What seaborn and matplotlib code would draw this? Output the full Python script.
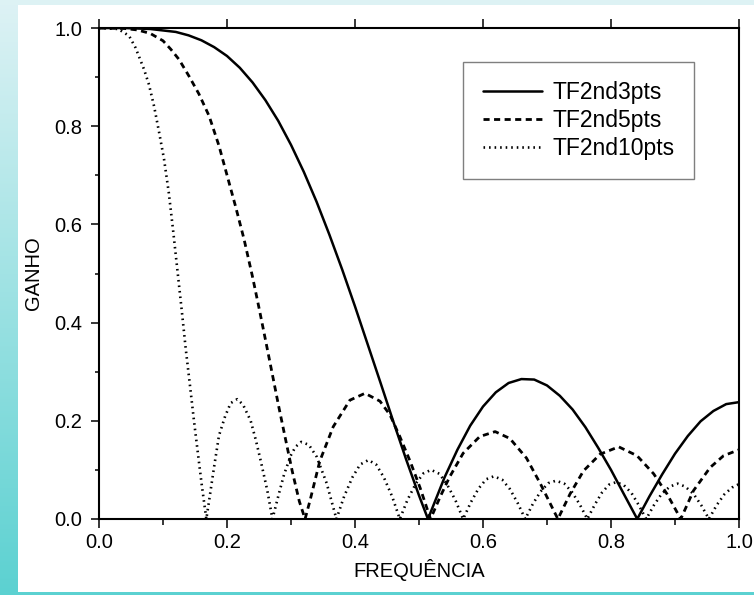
import numpy as np
import pandas as pd
import matplotlib
matplotlib.use("Agg")
import matplotlib.pyplot as plt
from matplotlib.patches import Rectangle
import seaborn as sns

# ---------------- data ----------------
x_3pts = [0.0, 0.04, 0.08, 0.12, 0.14, 0.16, 0.18, 0.20, 0.22, 0.24, 0.26, 0.28, 0.30,
          0.32, 0.34, 0.36, 0.38, 0.40, 0.42, 0.44, 0.46, 0.48, 0.50, 0.514,
          0.54, 0.56, 0.58, 0.60, 0.62, 0.64, 0.66, 0.68, 0.70, 0.72, 0.74,
          0.76, 0.78, 0.80, 0.82, 0.841, 0.86, 0.88, 0.90, 0.92, 0.94, 0.96,
          0.98, 1.0]
y_3pts = [1.0, 1.0, 0.998, 0.992, 0.985, 0.975, 0.961, 0.943, 0.919, 0.889, 0.853, 0.811, 0.762,
          0.707, 0.646, 0.579, 0.508, 0.433, 0.355, 0.277, 0.198, 0.121, 0.048, 0.0,
          0.085, 0.141, 0.190, 0.229, 0.258, 0.277, 0.285, 0.284, 0.272, 0.251, 0.223,
          0.187, 0.145, 0.100, 0.051, 0.0, 0.046, 0.091, 0.133, 0.169, 0.199, 0.220,
          0.234, 0.238]

x_5pts = [0.0, 0.04, 0.06, 0.08, 0.10, 0.112, 0.125, 0.1406, 0.156, 0.172, 0.1875,
          0.2005, 0.2135, 0.2266, 0.2396, 0.25, 0.2604, 0.2708, 0.281, 0.2917,
          0.302, 0.313, 0.322, 0.33, 0.345, 0.366, 0.392, 0.4156, 0.439, 0.4547,
          0.470, 0.486, 0.5016, 0.518, 0.533, 0.548, 0.569, 0.595, 0.619, 0.642,
          0.668, 0.690, 0.717, 0.736, 0.757, 0.783, 0.812, 0.8406, 0.8667,
          0.8875, 0.909, 0.929, 0.955, 0.976, 1.0]
y_5pts = [1.0, 0.999, 0.996, 0.989, 0.974, 0.957, 0.936, 0.902, 0.866, 0.821, 0.760,
          0.698, 0.636, 0.570, 0.495, 0.430, 0.363, 0.295, 0.228, 0.161,
          0.097, 0.036, 0.0, 0.039, 0.118, 0.188, 0.242, 0.256, 0.240, 0.212,
          0.168, 0.118, 0.064, 0.0, 0.045, 0.086, 0.134, 0.168, 0.178, 0.164,
          0.124, 0.071, 0.0, 0.051, 0.098, 0.132, 0.147, 0.129, 0.092,
          0.051, 0.0, 0.058, 0.105, 0.129, 0.141]

x_10pts = [0.0, 0.03, 0.047, 0.057, 0.0703, 0.078, 0.086, 0.094, 0.1016, 0.109,
           0.1156, 0.1224, 0.130, 0.1354, 0.1417, 0.1484, 0.1547, 0.1604, 0.1677,
           0.172, 0.1797, 0.1875, 0.197, 0.2057, 0.216, 0.225, 0.237, 0.245,
           0.2526, 0.263, 0.271, 0.281, 0.289, 0.2995, 0.307, 0.316, 0.328,
           0.340, 0.3557, 0.363, 0.371, 0.383, 0.396, 0.408, 0.421, 0.433, 0.445,
           0.458, 0.470, 0.482, 0.495, 0.507, 0.519, 0.532, 0.544, 0.557, 0.569,
           0.581, 0.593, 0.605, 0.617, 0.630, 0.642, 0.654, 0.666, 0.678, 0.690,
           0.702, 0.714, 0.727, 0.739, 0.751, 0.763, 0.775, 0.786, 0.797, 0.808,
           0.820, 0.832, 0.843, 0.855, 0.867, 0.879, 0.892, 0.904, 0.916, 0.929,
           0.941, 0.953, 0.965, 0.977, 0.989, 1.0]
y_10pts = [1.0, 0.998, 0.984, 0.960, 0.916, 0.885, 0.841, 0.787, 0.733, 0.665,
           0.590, 0.508, 0.416, 0.348, 0.277, 0.200, 0.132, 0.071, 0.0,
           0.037, 0.105, 0.170, 0.209, 0.236, 0.244, 0.233, 0.200, 0.161,
           0.119, 0.058, 0.0, 0.051, 0.090, 0.129, 0.147, 0.157, 0.151,
           0.127, 0.073, 0.038, 0.0, 0.046, 0.085, 0.111, 0.120, 0.111, 0.085,
           0.046, 0.0, 0.039, 0.072, 0.093, 0.100, 0.092, 0.070, 0.038, 0.0,
           0.034, 0.062, 0.081, 0.087, 0.080, 0.061, 0.033, 0.0, 0.031, 0.056,
           0.073, 0.078, 0.072, 0.055, 0.030, 0.0, 0.030, 0.054, 0.070, 0.075,
           0.069, 0.053, 0.029, 0.0, 0.028, 0.051, 0.066, 0.072, 0.066, 0.051,
           0.028, 0.0, 0.028, 0.050, 0.064, 0.071]

series_labels = ["TF2nd3pts", "TF2nd5pts", "TF2nd10pts"]
tick_values = [0.0, 0.2, 0.4, 0.6, 0.8, 1.0]
tick_labels = ["0.0", "0.2", "0.4", "0.6", "0.8", "1.0"]
x_label = "FREQUÊNCIA"
y_label = "GANHO"

# ---------------- style ----------------
sns.set_theme(style="white")
plt.rcParams["font.family"] = ["Liberation Sans", "DejaVu Sans"]

W, H = 754, 595
fig = plt.figure(figsize=(W / 100, H / 100), dpi=100)

# background: teal gradient with a white panel
bg = fig.add_axes([0, 0, 1, 1], zorder=-10)
grad = np.linspace(0, 1, 256)[:, None]
top_c = np.array([0.87, 0.95, 0.96])
bot_c = np.array([0.36, 0.82, 0.82])
img = top_c[None, None, :] * (1 - grad[:, :, None]) + bot_c[None, None, :] * grad[:, :, None]
bg.imshow(img, aspect="auto", extent=[0, 1, 0, 1], origin="upper")
bg.add_patch(Rectangle((18 / W, 3 / H), 1 - 18 / W, (H - 5 - 3) / H,
                       facecolor="white", edgecolor="none"))
bg.set_xlim(0, 1)
bg.set_ylim(0, 1)
bg.axis("off")

ax = fig.add_axes([99 / W, 1 - 519 / H, 640 / W, 491 / H])
ax.set_facecolor("white")

df = pd.concat([
    pd.DataFrame({"f": x_3pts, "g": y_3pts, "s": series_labels[0]}),
    pd.DataFrame({"f": x_5pts, "g": y_5pts, "s": series_labels[1]}),
    pd.DataFrame({"f": x_10pts, "g": y_10pts, "s": series_labels[2]}),
])

styles = {
    series_labels[0]: dict(lw=1.8, dashes=None),
    series_labels[1]: dict(lw=2.0, dashes=(2.2, 1.6)),
    series_labels[2]: dict(lw=1.9, dashes=(0.6, 1.5)),
}
for name in series_labels:
    sub = df[df["s"] == name]
    sns.lineplot(data=sub, x="f", y="g", ax=ax, color="black",
                 lw=styles[name]["lw"], label=name, sort=False,
                 estimator=None)
    line = ax.lines[-1]
    line.set_solid_joinstyle("round")
    if styles[name]["dashes"] is not None:
        line.set_dashes(styles[name]["dashes"])

ax.set_xlim(0, 1.0)
ax.set_ylim(0, 1.0)
ax.set_xticks(tick_values)
ax.set_xticklabels(tick_labels)
ax.set_yticks(tick_values)
ax.set_yticklabels(tick_labels)
ax.set_xticks([0.1, 0.3, 0.5, 0.7, 0.9], minor=True)
ax.set_yticks([0.1, 0.3, 0.5, 0.7, 0.9], minor=True)

for sp in ax.spines.values():
    sp.set_visible(True)
    sp.set_color("black")
    sp.set_linewidth(1.5)

ax.tick_params(axis="x", which="major", bottom=True, top=True, direction="out",
               length=6.5, width=1.1, colors="black", labelsize=14.5, pad=3.5)
ax.tick_params(axis="x", which="minor", bottom=True, top=False, direction="out",
               length=4.3, width=1.1, colors="black")
ax.tick_params(axis="y", which="major", left=True, right=False, direction="out",
               length=6.0, width=1.1, colors="black", labelsize=14.5, pad=6)
ax.tick_params(axis="y", which="minor", left=True, right=False, direction="out",
               length=3.0, width=1.1, colors="black")

ax.set_xlabel(x_label, fontsize=14.5, color="black", labelpad=5)
ax.set_ylabel(y_label, fontsize=14.5, color="black", labelpad=8)

leg = ax.legend(loc="upper left", bbox_to_anchor=(0.569, 0.931),
                borderaxespad=0, fontsize=16.5, handlelength=2.6,
                handletextpad=0.45, labelspacing=0.2, borderpad=0.85,
                frameon=True, fancybox=False, framealpha=1)
leg.get_frame().set_edgecolor("#7f7f7f")
leg.get_frame().set_linewidth(1.0)
for t in leg.get_texts():
    t.set_color("black")

fig.savefig("out.png", dpi=100)
